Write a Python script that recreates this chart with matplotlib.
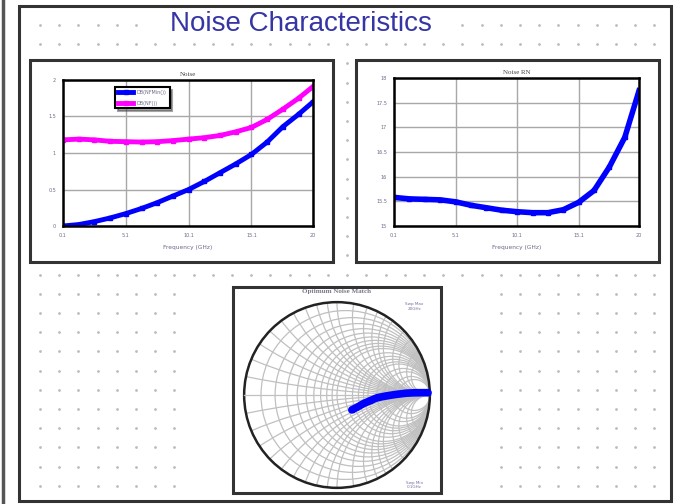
import numpy as np
import matplotlib
matplotlib.use('Agg')
import matplotlib.pyplot as plt
from matplotlib.patches import Rectangle, Circle

W, H = 674, 504

# 噪声图数据 (GHz)
freq = [0.1, 1.35, 2.6, 3.85, 5.1, 6.35, 7.6, 8.85, 10.1, 11.35, 12.6, 13.85, 15.1, 16.35, 17.6, 18.85, 20]
nf_min = [0.0, 0.02, 0.06, 0.11, 0.17, 0.24, 0.32, 0.41, 0.5, 0.61, 0.73, 0.85, 0.98, 1.15, 1.36, 1.53, 1.7]
nf = [1.18, 1.19, 1.18, 1.16, 1.155, 1.15, 1.155, 1.17, 1.19, 1.21, 1.24, 1.29, 1.35, 1.46, 1.6, 1.75, 1.91]
rn = [15.58, 15.55, 15.54, 15.53, 15.49, 15.42, 15.37, 15.32, 15.29, 15.27, 15.27, 15.33, 15.48, 15.72, 16.2, 16.8, 17.74]
legend_labels = ['DB(NFMin())', 'DB(NF())']
x_ticks = [0.1, 5.1, 10.1, 15.1, 20]
x_tick_labels = ['0.1', '5.1', '10.1', '15.1', '20']
nf_ticks = [0, 0.5, 1, 1.5, 2]
rn_ticks = [15, 15.5, 16, 16.5, 17, 17.5, 18]

# 最佳噪声匹配 (反射系数)
gamma_re = [0.16, 0.22, 0.29, 0.36, 0.43, 0.53, 0.64, 0.75, 0.86, 0.98]
gamma_im = [-0.16, -0.13, -0.09, -0.06, -0.03, -0.01, 0.007, 0.02, 0.025, 0.025]

# smith 网格
grid_vals = [0.1, 0.2, 0.3, 0.4, 0.5, 0.6, 0.7, 0.8, 0.9, 1.0, 1.2, 1.4, 1.6, 1.8, 2, 2.5, 3, 4, 5]

text_col = '#6a6a8a'
title_font = ['Liberation Serif', 'DejaVu Serif']


def px_axes(fig, x0, y0, x1, y1):
	return fig.add_axes([x0 / W, 1 - y1 / H, (x1 - x0) / W, (y1 - y0) / H])


fig = plt.figure(figsize=(W / 100, H / 100), dpi=100)
fig.patch.set_facecolor('white')

# 背景画布, 单位为像素
bg = fig.add_axes([0, 0, 1, 1])
bg.set_xlim(0, W)
bg.set_ylim(H, 0)
bg.axis('off')

bg.plot([3, 3], [0, H], color='#555555', lw=2.5)
bg.add_patch(Rectangle((19, 6), 652, 495, fill=False, ec='#333333', lw=2.2, zorder=5))

gx, gy = np.meshgrid(40 + 19.2 * np.arange(33), 25 + 19.2 * np.arange(25))
bg.scatter(gx.ravel(), gy.ravel(), s=1.0, color='#bdbdbd', zorder=1)

# 遮住点阵的白色区域
bg.add_patch(Rectangle((150, 12), 305, 26, fc='white', ec='none', zorder=2))
bg.add_patch(Rectangle((183, 283), 306, 221, fc='white', ec='none', zorder=2))
for bx in (30, 356):
	bg.add_patch(Rectangle((bx, 60), 303, 202, fc='white', ec='#333333', lw=2.2, zorder=3))
bg.add_patch(Rectangle((233, 287), 208, 206, fc='white', ec='#333333', lw=2.2, zorder=3))

bg.text(301, 24, 'Noise Characteristics', ha='center', va='center', fontsize=20,
		family=['Liberation Sans', 'DejaVu Sans'], color='#3535a5', zorder=4)


def style_axes(ax, yticks):
	ax.set_xlim(0.1, 20)
	ax.set_ylim(yticks[0], yticks[-1])
	ax.set_xticks(x_ticks)
	ax.set_xticklabels(x_tick_labels)
	ax.set_yticks(yticks)
	ax.set_yticklabels(['%g' % t for t in yticks])
	ax.tick_params(labelsize=3.5, length=0, colors=text_col, pad=5)
	ax.grid(True, color='#a8a8a8', lw=1)
	for s in ax.spines.values():
		s.set_linewidth(1.8)
		s.set_color('black')
	ax.set_xlabel('Frequency (GHz)', fontsize=4.2, color=text_col, labelpad=5)


# 左图: Noise
ax1 = px_axes(fig, 63, 80, 313, 226)
ax1.plot(freq, nf_min, color='blue', lw=3.5, marker='s', ms=3.5, label=legend_labels[0])
ax1.plot(freq, nf, color='magenta', lw=3.5, marker='s', ms=3.5, label=legend_labels[1])
style_axes(ax1, nf_ticks)
ax1.set_title('Noise', fontsize=5, family=title_font, color='#444444', pad=3)
leg = ax1.legend(loc='upper left', bbox_to_anchor=(0.2, 0.97), fontsize=3.5, fancybox=False,
				 shadow=True, borderpad=0.6, handlelength=3, labelspacing=1.2, framealpha=1)
leg.get_frame().set_edgecolor('black')
leg.get_frame().set_linewidth(1.5)
for t in leg.get_texts():
	t.set_color(text_col)

# 右图: Noise RN
ax2 = px_axes(fig, 394, 78, 639, 226)
ax2.plot(freq, rn, color='blue', lw=4, marker='s', ms=3)
style_axes(ax2, rn_ticks)
ax2.set_title('Noise RN', fontsize=5, family=title_font, color='#444444', pad=3)

# smith 圆图
ax3 = px_axes(fig, 233, 291, 441, 499)
ax3.set_xlim(-1.12, 1.12)
ax3.set_ylim(-1.12, 1.12)
ax3.axis('off')
clip = Circle((0, 0), 1, transform=ax3.transData)
for v in grid_vals:
	c = Circle((v / (1 + v), 0), 1 / (1 + v), fill=False, ec='#c0c0c0', lw=0.9)
	ax3.add_patch(c)
	c.set_clip_path(clip)
	for sgn in (1, -1):
		a = Circle((1, sgn / v), 1 / v, fill=False, ec='#c0c0c0', lw=0.9)
		ax3.add_patch(a)
		a.set_clip_path(clip)
ax3.plot([-1, 1], [0, 0], color='#c0c0c0', lw=0.9)
ax3.add_patch(Circle((0, 0), 1, fill=False, ec='#222222', lw=1.8))
ax3.plot(gamma_re, gamma_im, color='blue', lw=5.5, marker='s', ms=3, solid_capstyle='round')
ax3.text(0, 1.12, 'Optimum Noise Match', ha='center', va='center', fontsize=5,
		 family=title_font, color='#777788', weight='bold')
ax3.text(0.83, 0.95, 'Swp Max\n20GHz', ha='center', va='center', fontsize=3, color='#7070a0')
ax3.text(0.83, -0.97, 'Swp Min\n0.1GHz', ha='center', va='center', fontsize=3, color='#7070a0')

fig.savefig('out.png', dpi=100)
